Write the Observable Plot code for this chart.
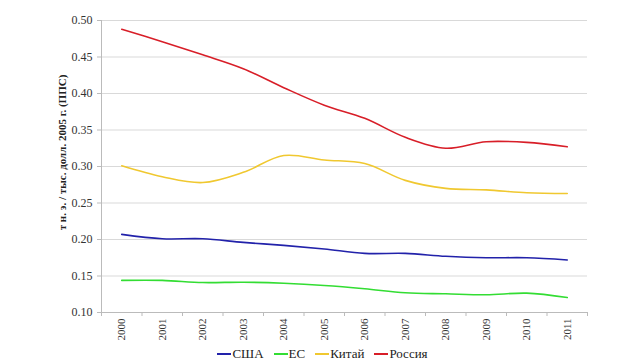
<!DOCTYPE html>
<html><head><meta charset="utf-8">
<script src="https://cdn.jsdelivr.net/npm/d3@7"></script>
<script src="https://cdn.jsdelivr.net/npm/@observablehq/plot@0.6"></script>
<style>
body{margin:0;background:#fff;font-family:"Liberation Serif","DejaVu Serif",serif;}
#legend{display:flex;justify-content:center;gap:10px;font-size:13px;color:#222;height:18px;align-items:center;margin-left:24px;}
#legend span{display:inline-flex;align-items:center;}
#legend i{display:inline-block;width:14px;height:2px;margin-right:1px;}
</style></head>
<body><div id="chart"></div><div id="legend"></div>
<script>
const years = [2000,2001,2002,2003,2004,2005,2006,2007,2008,2009,2010,2011];
const usa    = [0.207,0.201,0.201,0.196,0.192,0.187,0.181,0.181,0.177,0.175,0.175,0.172];
const eu     = [0.144,0.144,0.141,0.1415,0.140,0.137,0.1325,0.127,0.1256,0.1243,0.1265,0.1205];
const china  = [0.301,0.286,0.278,0.292,0.315,0.309,0.304,0.281,0.270,0.268,0.264,0.263];
const russia = [0.488,0.471,0.453,0.434,0.408,0.384,0.366,0.340,0.325,0.334,0.333,0.327];
const seriesNames = ["США","ЕС","Китай","Россия"];
const seriesColors = ["#2222aa","#33dd33","#f0c830","#d81e28"];
const yTicks = [0.10,0.15,0.20,0.25,0.30,0.35,0.40,0.45,0.50];
const yLabel = "т н. э. / тыс. долл. 2005 г. (ППС)";

const allSeries = [usa, eu, china, russia];
const data = allSeries.flatMap((vals, i) => vals.map((v, j) => ({year: years[j], value: v, series: seriesNames[i]})));
const boundaries = [years[0] - 0.5, ...years.map(y => y + 0.5)];

const chart = Plot.plot({
  width: 621, height: 345,
  marginTop: 20, marginBottom: 33, marginLeft: 101, marginRight: 34,
  style: {fontFamily: '"Liberation Serif","DejaVu Serif",serif', fontSize: "12px", color: "#333"},
  x: {domain: [years[0] - 0.5, years[years.length - 1] + 0.5]},
  y: {domain: [0.10, 0.50]},
  color: {domain: seriesNames, range: seriesColors},
  marks: [
    Plot.gridY(yTicks, {stroke: "#d9d9d9", strokeOpacity: 1}),
    Plot.axisY({ticks: yTicks, tickFormat: d3.format(".2f"), tickSize: 4, tickPadding: 5, stroke: "#bbb", label: null}),
    Plot.ruleX([boundaries[0]], {stroke: "#bbb"}),
    Plot.ruleY([0.10], {stroke: "#bbb"}),
    Plot.axisX({ticks: boundaries, tickFormat: () => "", tickSize: 4, stroke: "#bbb", label: null}),
    Plot.axisX({ticks: years, tickFormat: d => String(d), tickSize: 0, tickRotate: -90, tickPadding: 6, fontSize: 11, label: null}),
    Plot.line(data, {x: "year", y: "value", z: "series", stroke: "series", strokeWidth: 1.6, curve: "catmull-rom"}),
    Plot.text([yLabel], {frameAnchor: "left", textAnchor: "middle", dx: -39, dy: -14, rotate: -90, fontWeight: "bold", fontSize: 11, fill: "#222", text: d => d})
  ]
});
document.getElementById("chart").append(chart);
const lg = document.getElementById("legend");
seriesNames.forEach((n, i) => {
  const s = document.createElement("span");
  s.innerHTML = `<i style="background:${seriesColors[i]}"></i>${n}`;
  lg.append(s);
});
</script></body></html>
